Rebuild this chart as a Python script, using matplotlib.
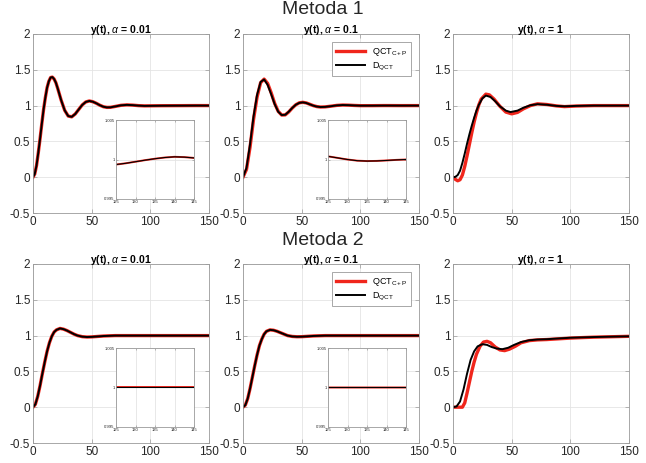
import matplotlib
matplotlib.use("Agg")
import matplotlib.pyplot as plt

plt.rcParams['font.family'] = ['Liberation Sans', 'DejaVu Sans']
plt.rcParams['mathtext.fontset'] = 'custom'
plt.rcParams['mathtext.rm'] = 'Liberation Sans'
plt.rcParams['mathtext.it'] = 'Liberation Sans:italic'

# --- data ---
# Metoda 1, alpha = 0.01
t1 = [0, 1.5, 3, 4.5, 6, 7.5, 9, 10.5, 12, 13.5, 15, 16.5, 18, 19.5, 21, 24, 27, 30,
      33, 36, 39, 42, 45, 48, 51, 54, 57, 60, 63, 66, 70, 75, 80, 85, 90, 95, 100,
      110, 120, 125, 127.5, 130, 132.5, 135, 137.5, 140, 142.5, 145, 150]
y1_dqct = [0, 0.045, 0.163, 0.34, 0.536, 0.745, 0.944, 1.11, 1.251, 1.34, 1.392, 1.398,
           1.371, 1.32, 1.243, 1.076, 0.934, 0.854, 0.843, 0.883, 0.947, 1.010, 1.051,
           1.065, 1.054, 1.032, 1.005, 0.984, 0.975, 0.976, 0.988, 1.004, 1.010, 1.0065,
           0.9995, 0.996, 0.9968, 0.9985, 0.9991, 0.99936, 0.99952, 0.99972, 0.99992,
           1.0001, 1.00025, 1.00034, 1.0003, 1.0002, 1.0001]
y1_qct = y1_dqct

# Metoda 1, alpha = 0.1
t2 = [0, 3, 6, 9, 12, 15, 18, 21, 24, 27, 30, 33, 36, 39, 42, 45, 48, 51, 54, 57,
      60, 63, 66, 70, 75, 80, 85, 90, 95, 100, 110, 120, 125, 127.5, 130, 132.5,
      135, 137.5, 140, 142.5, 145, 150]
y2_dqct = [0, 0.13, 0.46, 0.85, 1.15, 1.33, 1.365, 1.29, 1.16, 1.02, 0.915, 0.868,
           0.872, 0.915, 0.968, 1.012, 1.038, 1.045, 1.036, 1.017, 0.999, 0.986, 0.980,
           0.982, 0.992, 1.003, 1.008, 1.006, 1.002, 0.999, 0.9992, 1.0005, 1.0004,
           1.0002, 1.0, 0.99985, 0.9998, 0.99982, 0.99988, 0.99995, 1.0, 1.0]
y2_qct = [0, 0.11, 0.42, 0.81, 1.12, 1.32, 1.37, 1.31, 1.18, 1.03, 0.92, 0.868,
          0.870, 0.912, 0.966, 1.012, 1.039, 1.046, 1.037, 1.018, 0.999, 0.986, 0.980,
          0.982, 0.992, 1.003, 1.008, 1.006, 1.002, 0.999, 0.9992, 1.0005, 1.0004,
          1.0002, 1.0, 0.99985, 0.9998, 0.99982, 0.99988, 0.99995, 1.0, 1.0]

# Metoda 1, alpha = 1
t3_d = [0, 2, 4, 6, 8, 10, 12, 14, 16, 18, 20, 22, 25, 28, 32, 36, 40, 45, 49, 55,
        60, 66, 72, 80, 88, 95, 105, 120, 135, 150]
y3_dqct = [0, 0.005, 0.03, 0.09, 0.2, 0.33, 0.47, 0.6, 0.72, 0.83, 0.93, 1.01, 1.10,
           1.14, 1.12, 1.06, 0.99, 0.93, 0.91, 0.93, 0.97, 1.005, 1.02, 1.012, 0.996,
           0.99, 0.996, 1.0, 1.0, 1.0]
t3_q = [0, 2, 4, 6, 8, 10, 12, 14, 16, 18, 20, 22, 24, 28, 31, 35, 40, 45, 50, 55,
        60, 66, 72, 80, 88, 95, 105, 120, 135, 150]
y3_qct = [0, -0.03, -0.05, -0.035, 0.03, 0.15, 0.3, 0.46, 0.62, 0.77, 0.9, 1.01, 1.09,
          1.16, 1.15, 1.09, 0.99, 0.91, 0.885, 0.905, 0.955, 1.0, 1.025, 1.015, 0.996,
          0.986, 0.994, 1.0, 1.0, 1.0]

# Metoda 2, alpha = 0.01
t4 = [0, 2, 4, 6, 8, 10, 12, 14, 16, 18, 20, 23, 26, 29, 32, 35, 38, 42, 46, 50, 55,
      60, 70, 80, 100, 125, 135, 145, 150]
y4_dqct = [0, 0.04, 0.15, 0.30, 0.47, 0.63, 0.78, 0.90, 0.99, 1.05, 1.08, 1.10, 1.09,
           1.07, 1.045, 1.02, 1.0, 0.985, 0.98, 0.982, 0.988, 0.994, 1.0, 1.0, 1.0,
           1.0, 1.0, 1.0, 1.0]
y4_qct = y4_dqct

# Metoda 2, alpha = 0.1
t5 = t4
y5_dqct = [0, 0.03, 0.12, 0.26, 0.42, 0.58, 0.73, 0.86, 0.95, 1.02, 1.06, 1.08, 1.075,
           1.06, 1.04, 1.02, 1.0, 0.988, 0.984, 0.985, 0.99, 0.995, 1.0, 1.0, 1.0,
           1.0, 1.0, 1.0, 1.0]
y5_qct = y5_dqct

# Metoda 2, alpha = 1
t6_d = [0, 3, 6, 9, 12, 15, 18, 21, 25, 29, 33, 37, 42, 47, 52, 58, 65, 72, 80, 90,
        100, 110, 120, 135, 150]
y6_dqct = [0, 0.01, 0.08, 0.25, 0.47, 0.66, 0.78, 0.85, 0.88, 0.87, 0.84, 0.82, 0.81,
           0.83, 0.87, 0.91, 0.935, 0.945, 0.95, 0.96, 0.97, 0.975, 0.98, 0.985, 0.99]
t6_q = [0, 4, 8, 10, 12, 14, 16, 18, 20, 23, 26, 29, 32, 36, 40, 44, 48, 53, 58, 65,
        72, 80, 90, 100, 110, 120, 135, 150]
y6_qct = [0, 0, 0.0, 0.06, 0.2, 0.35, 0.5, 0.63, 0.74, 0.85, 0.91, 0.92, 0.9, 0.84,
          0.8, 0.79, 0.81, 0.85, 0.9, 0.93, 0.94, 0.945, 0.955, 0.965, 0.972, 0.978,
          0.984, 0.99]

titles = ['y(t), $\\alpha$ = 0.01', 'y(t), $\\alpha$ = 0.1', 'y(t), $\\alpha$ = 1']
legend_labels = ['QCT$_{\\mathrm{C+P}}$', 'D$_{\\mathrm{QCT}}$']
row_titles = ['Metoda 1', 'Metoda 2']

RED = '#f0261c'
SPINE = '#9a9a9a'
GRID = '#e4e4e4'
TXT = '#262626'

W, H = 646, 463
fig = plt.figure(figsize=(W / 100, H / 100), dpi=100)


def style_axes(ax, fs, length):
    for s in ax.spines.values():
        s.set_color(SPINE)
        s.set_linewidth(0.6)
    ax.tick_params(direction='in', top=True, right=True, length=length, width=0.5,
                   color=SPINE, labelcolor=TXT, labelsize=fs, pad=2)
    ax.grid(True, color=GRID, lw=0.6)
    ax.set_axisbelow(True)


def draw_lines(ax, tq, yq, td, yd, lw_red=2.4, lw_black=1.4):
    ax.plot(tq, yq, color=RED, lw=lw_red, label=legend_labels[0])
    ax.plot(td, yd, color='black', lw=lw_black, label=legend_labels[1])


panels = [
    [(t1, y1_qct, t1, y1_dqct), (t2, y2_qct, t2, y2_dqct), (t3_q, y3_qct, t3_d, y3_dqct)],
    [(t4, y4_qct, t4, y4_dqct), (t5, y5_qct, t5, y5_dqct), (t6_q, y6_qct, t6_d, y6_dqct)],
]

lefts = [33, 243, 453]
tops = [34, 264]
inset_lefts = [116, 328]
inset_tops = [120, 348]

for r in range(2):
    for c in range(3):
        ax = fig.add_axes([lefts[c] / W, 1 - (tops[r] + 179) / H, 176 / W, 179 / H])
        style_axes(ax, 8.5, 3)
        draw_lines(ax, *panels[r][c])
        ax.set_xlim(0, 150)
        ax.set_ylim(-0.5, 2)
        ax.set_xticks([0, 50, 100, 150])
        ax.set_yticks([-0.5, 0, 0.5, 1, 1.5, 2])
        ax.set_yticklabels(['-0.5', '0', '0.5', '1', '1.5', '2'])
        ax.set_title(titles[c], fontsize=7.5, fontweight='bold', pad=1, color='black')
        if c == 1:
            leg = ax.legend(loc='upper right', fontsize=6.5, handlelength=3.2,
                            borderaxespad=0.9, fancybox=False, framealpha=1,
                            edgecolor=SPINE, labelspacing=0.3, borderpad=0.4)
            leg.get_frame().set_linewidth(0.6)
        if c < 2:
            ia = fig.add_axes([inset_lefts[c] / W, 1 - (inset_tops[r] + 79) / H,
                               78 / W, 79 / H])
            style_axes(ia, 3, 1.5)
            ia.tick_params(pad=1)
            draw_lines(ia, *panels[r][c], lw_red=1.4, lw_black=0.8)
            ia.set_xlim(125, 145)
            ia.set_ylim(0.995, 1.005)
            ia.set_xticks([125, 130, 135, 140, 145])
            ia.set_yticks([0.995, 1, 1.005])
            ia.set_yticklabels(['0.995', '1', '1.005'])
    fig.text(323 / W, 1 - (10 + 230 * r) / H, row_titles[r], ha='center', va='center',
             fontsize=14, color=TXT)

fig.savefig('out.png', dpi=100)
